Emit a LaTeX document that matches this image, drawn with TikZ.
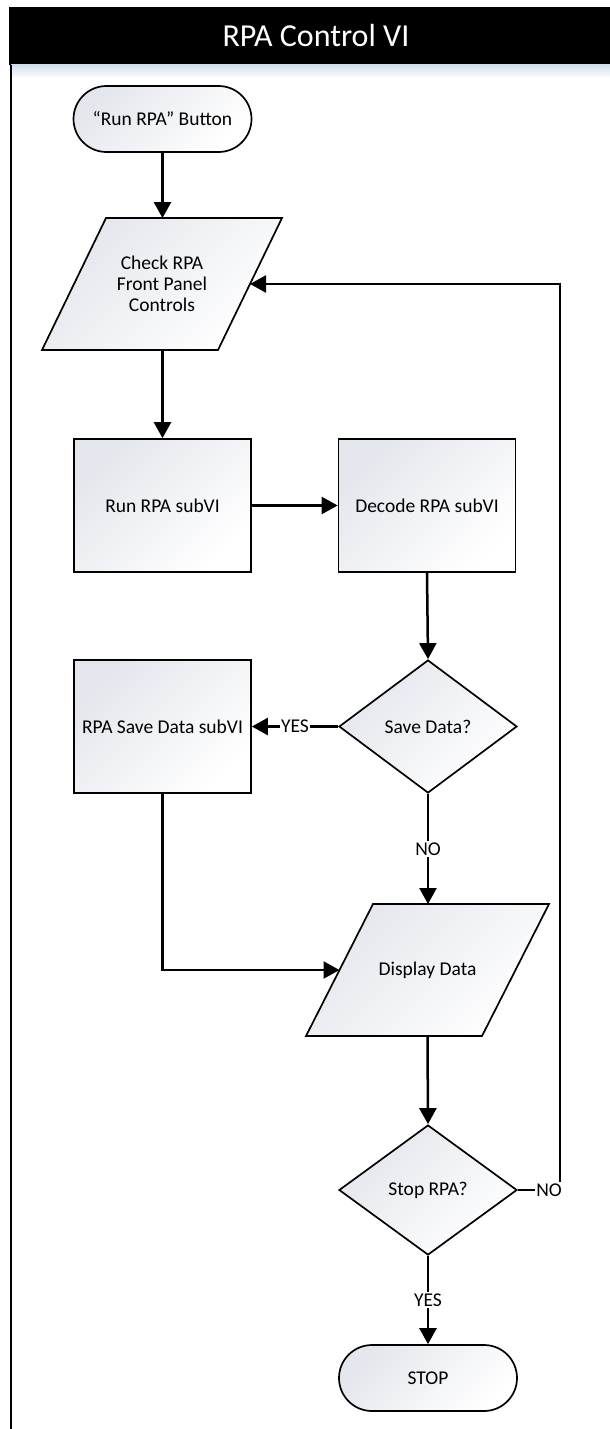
\documentclass[tikz,border=0pt]{standalone}
\usepackage{fontspec}
\setmainfont{Carlito}
\usetikzlibrary{shapes.geometric,arrows.meta,calc,backgrounds}
\definecolor{shadeA}{HTML}{E3E6EC}
\definecolor{shadeB}{HTML}{F6F7F9}
\definecolor{laneblue}{HTML}{D3DFEE}
\begin{document}
\begin{tikzpicture}[x=1pt,y=-1pt,
  every node/.style={font=\fontsize{19.5}{21}\selectfont, text=black},
  fillshade/.style={left color=shadeA, middle color=shadeB, right color=white, shading angle=45},
  outline/.style={draw, line width=1.7pt},
  proc/.style={outline, fillshade, rectangle, minimum width=177pt, minimum height=133pt, inner sep=2pt},
  term/.style={outline, fillshade, rectangle, rounded corners=33pt, minimum width=178pt, minimum height=66pt},
  iotext/.style={rectangle, minimum width=176pt, minimum height=132pt, align=center, inner sep=0pt, outer sep=0pt},
  iobox/.style={outline, fillshade, line join=miter},
  decision/.style={outline, fillshade, diamond, aspect=1.34, minimum width=178pt, minimum height=133pt, inner sep=0pt},
  flow/.style={line width=2.5pt, -{Triangle[length=16pt,width=17pt]}},
  lbl/.style={fill=white, inner sep=1.5pt},
]
\useasboundingbox (0,0) rectangle (610,1429);

% swimlane header and border
\draw[gray!35, line width=0.8pt] (9,7) -- (610,7);
\fill[black] (9,7.5) rectangle (610,65);
\shade[top color=laneblue, bottom color=white] (11,65) rectangle (610,78);
\node[text=white, font=\fontsize{32}{36}\selectfont] (title) at (316,36) {RPA Control VI};
\draw[line width=1.6pt] (11,65) -- (11,1429);

% flowchart nodes
\node[term] (start) at (162.5,119) {“Run RPA” Button};
\node[iotext] (check) at (162,284) {Check RPA\\Front Panel\\Controls};
\node[proc] (run) at (162.5,505.5) {Run RPA subVI};
\node[proc] (decode) at (427,505.5) {Decode RPA subVI};
\node[decision] (save) at (428,726.5) {Save Data?};
\node[proc] (savevi) at (162.5,726.5) {RPA Save Data subVI};
\node[iotext] (disp) at (427.5,970) {Display Data};
\node[decision, minimum height=130pt] (stopq) at (428,1190) {Stop RPA?};
\node[term] (stop) at (428,1378) {STOP};
\coordinate (loopc) at (560,1190);

% parallelogram outlines behind the input/output texts
\begin{pgfonlayer}{background}
\draw[iobox] ([xshift=32pt]check.north west) -- ([xshift=32pt]check.north east)
  -- ([xshift=-32pt]check.south east) -- ([xshift=-32pt]check.south west) -- cycle;
\draw[iobox] ([xshift=33.5pt]disp.north west) -- ([xshift=33.5pt]disp.north east)
  -- ([xshift=-33.5pt]disp.south east) -- ([xshift=-33.5pt]disp.south west) -- cycle;
\end{pgfonlayer}

% connectors
\draw[flow] (start.south) -- (start.south |- check.north);
\draw[flow] (run.north |- check.south) -- (run.north);
\draw[flow] (run.east) -- (decode.west);
\draw[flow] (decode.south) -- (save.north);
\draw[flow] (save.west) -- node[lbl]{YES} (savevi.east);
\draw[flow] (save.south) -- node[lbl]{NO} (save.south |- disp.north);
\draw[flow] (savevi.south) |- (disp.west);
\draw[flow] (disp.south) -- (stopq.north);
\draw[flow] (stopq.south) -- node[lbl]{YES} (stop.north);
\draw[flow] (stopq.east) -- (loopc) |- (check.east);
\node[lbl] (nolbl) at (549,1190) {NO};
\end{tikzpicture}
\end{document}
